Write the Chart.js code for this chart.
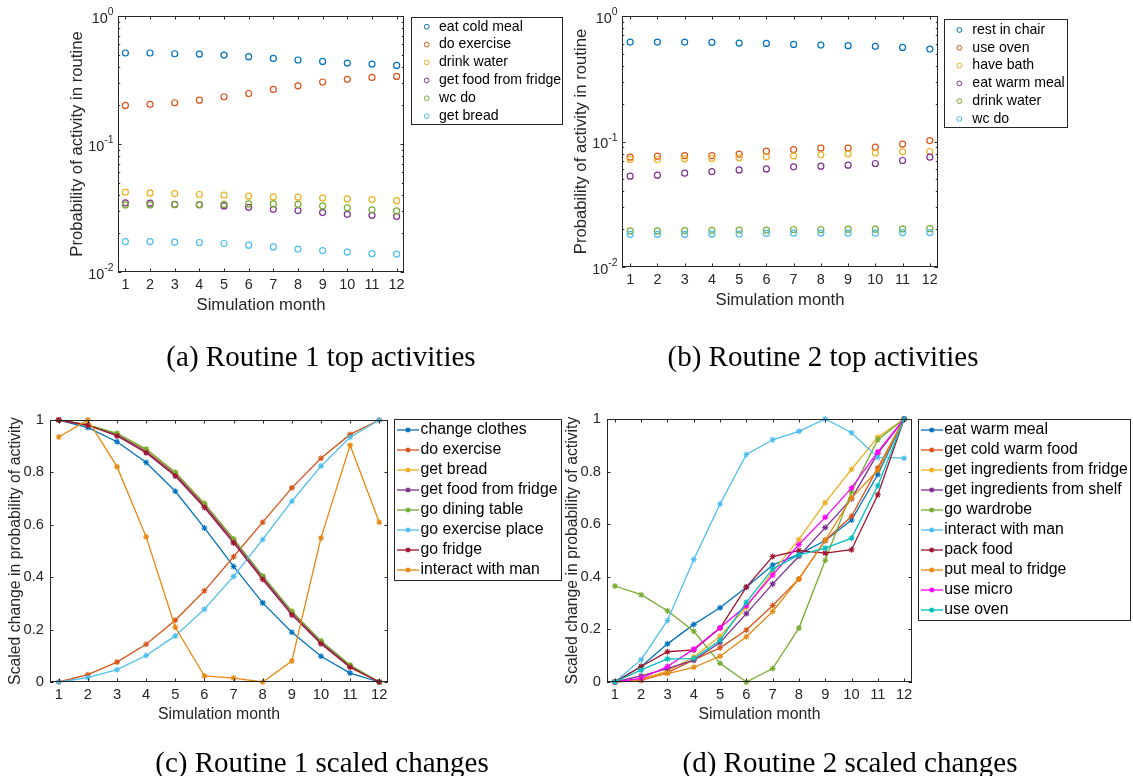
<!DOCTYPE html>
<html>
<head>
<meta charset="utf-8">
<script src="https://cdn.jsdelivr.net/npm/chart.js@4.4.1/dist/chart.umd.min.js"></script>
<style>
  html, body { margin: 0; padding: 0; background: #fff; }
  #page { position: relative; width: 1133px; height: 776px; overflow: hidden; }
  #page canvas { position: absolute; left: 0; top: 0; }
  .caption {
    position: absolute;
    font-family: "Liberation Serif", serif;
    font-size: 29px;
    color: #000;
    white-space: nowrap;
    transform: translate(-50%, -50%);
  }
</style>
</head>
<body>
<div id="page">
  <canvas id="chartA" width="1133" height="776"></canvas>
  <canvas id="chartB" width="1133" height="776"></canvas>
  <canvas id="chartC" width="1133" height="776"></canvas>
  <canvas id="chartD" width="1133" height="776"></canvas>
  <div class="caption" style="left:321px; top:356px">(a) Routine 1 top activities</div>
  <div class="caption" style="left:823px; top:356px">(b) Routine 2 top activities</div>
  <div class="caption" style="left:322px; top:762px">(c) Routine 1 scaled changes</div>
  <div class="caption" style="left:850px; top:762px">(d) Routine 2 scaled changes</div>
</div>
<script>
// x axis: simulation months
const months = [1, 2, 3, 4, 5, 6, 7, 8, 9, 10, 11, 12];

// Routine 1, top activities (probability in routine)
const r1TopLabels = ['eat cold meal', 'do exercise', 'drink water', 'get food from fridge', 'wc do', 'get bread'];
const r1TopEatColdMeal = [0.514, 0.514, 0.507, 0.504, 0.495, 0.481, 0.466, 0.453, 0.442, 0.429, 0.421, 0.411];
const r1TopDoExercise = [0.200, 0.204, 0.210, 0.220, 0.234, 0.248, 0.267, 0.285, 0.305, 0.320, 0.331, 0.337];
const r1TopDrinkWater = [0.0420, 0.0415, 0.0410, 0.0403, 0.0398, 0.0391, 0.0386, 0.0384, 0.0379, 0.0372, 0.0368, 0.0361];
const r1TopGetFoodFromFridge = [0.0347, 0.0345, 0.0338, 0.0336, 0.0328, 0.0320, 0.0309, 0.0302, 0.0291, 0.0282, 0.0277, 0.0272];
const r1TopWcDo = [0.0334, 0.0334, 0.0336, 0.0336, 0.0338, 0.0340, 0.0340, 0.0338, 0.0328, 0.0317, 0.0306, 0.0300];
const r1TopGetBread = [0.0173, 0.0173, 0.0171, 0.0170, 0.0167, 0.0162, 0.0157, 0.0151, 0.0147, 0.0143, 0.0139, 0.0138];

// Routine 2, top activities
const r2TopLabels = ['rest in chair', 'use oven', 'have bath', 'eat warm meal', 'drink water', 'wc do'];
const r2TopRestInChair = [0.620, 0.620, 0.620, 0.616, 0.609, 0.605, 0.594, 0.587, 0.580, 0.573, 0.562, 0.545];
const r2TopUseOven = [0.0750, 0.0764, 0.0773, 0.0773, 0.0793, 0.0838, 0.0863, 0.0885, 0.0885, 0.0901, 0.0953, 0.1018];
const r2TopHaveBath = [0.0719, 0.0719, 0.0728, 0.0732, 0.0741, 0.0755, 0.0769, 0.0783, 0.0797, 0.0812, 0.0827, 0.0832];
const r2TopEatWarmMeal = [0.0529, 0.0539, 0.0559, 0.0576, 0.0594, 0.0605, 0.0628, 0.0636, 0.0648, 0.0668, 0.0706, 0.0750];
const r2TopDrinkWater = [0.0194, 0.0194, 0.0195, 0.0196, 0.0197, 0.0197, 0.0199, 0.0199, 0.0200, 0.0200, 0.0201, 0.0202];
const r2TopWcDo = [0.0182, 0.0182, 0.0182, 0.0183, 0.0183, 0.0185, 0.0186, 0.0186, 0.0186, 0.0186, 0.0188, 0.0188];

// Routine 1, scaled change
const r1Labels = ['change clothes', 'do exercise', 'get bread', 'get food from fridge', 'go dining table',
  'go exercise place', 'go fridge', 'interact with man'];
const r1ChangeClothes = [1.0, 0.971, 0.917, 0.838, 0.728, 0.588, 0.441, 0.302, 0.190, 0.098, 0.034, 0];
const r1DoExercise = [0, 0.028, 0.076, 0.144, 0.236, 0.348, 0.478, 0.610, 0.741, 0.854, 0.945, 1.0];
const r1GetBread = [1.0, 0.981, 0.947, 0.886, 0.797, 0.678, 0.543, 0.402, 0.267, 0.154, 0.062, 0];
const r1GetFoodFromFridge = [1.0, 0.980, 0.943, 0.880, 0.792, 0.673, 0.538, 0.398, 0.263, 0.151, 0.060, 0];
const r1GoDiningTable = [1.0, 0.981, 0.949, 0.889, 0.801, 0.682, 0.547, 0.405, 0.270, 0.157, 0.065, 0];
const r1GoExercisePlace = [0, 0.017, 0.047, 0.101, 0.176, 0.278, 0.403, 0.544, 0.690, 0.824, 0.934, 1.0];
const r1GoFridge = [1.0, 0.980, 0.939, 0.875, 0.786, 0.666, 0.531, 0.391, 0.256, 0.146, 0.056, 0];
const r1InteractWithMan = [0.935, 1.0, 0.822, 0.554, 0.209, 0.023, 0.015, 0, 0.080, 0.550, 0.904, 0.610];

// Routine 2, scaled change
const r2Labels = ['eat warm meal', 'get cold warm food', 'get ingredients from fridge', 'get ingredients from shelf',
  'go wardrobe', 'interact with man', 'pack food', 'put meal to fridge', 'use micro', 'use oven'];
const r2EatWarmMeal = [0, 0.059, 0.145, 0.219, 0.282, 0.360, 0.445, 0.485, 0.538, 0.616, 0.789, 1.0];
const r2GetColdWarmFood = [0, 0.006, 0.036, 0.084, 0.130, 0.198, 0.291, 0.392, 0.538, 0.630, 0.814, 1.0];
const r2GetIngredientsFromFridge = [0, 0.010, 0.042, 0.095, 0.174, 0.284, 0.420, 0.542, 0.682, 0.809, 0.931, 1.0];
const r2GetIngredientsFromShelf = [0, 0.023, 0.051, 0.083, 0.150, 0.260, 0.373, 0.478, 0.587, 0.697, 0.869, 1.0];
const r2GoWardrobe = [0.365, 0.332, 0.271, 0.193, 0.071, 0, 0.051, 0.205, 0.463, 0.723, 0.921, 1.0];
const r2InteractWithMan = [0, 0.085, 0.234, 0.466, 0.677, 0.865, 0.921, 0.953, 1.0, 0.948, 0.854, 0.851];
const r2PackFood = [0, 0.059, 0.115, 0.122, 0.205, 0.361, 0.477, 0.500, 0.490, 0.503, 0.712, 1.0];
const r2PutMealToFridge = [0, 0.012, 0.032, 0.056, 0.098, 0.172, 0.268, 0.392, 0.539, 0.700, 0.805, 1.0];
const r2UseMicro = [0, 0.014, 0.059, 0.125, 0.206, 0.290, 0.407, 0.523, 0.626, 0.738, 0.875, 1.0];
const r2UseOven = [0, 0.046, 0.088, 0.089, 0.159, 0.303, 0.430, 0.483, 0.509, 0.547, 0.746, 1.0];

// y ticks
const logTicks = [0.01, 0.1, 1];
const logExponents = [-2, -1, 0];
const linTicks = [0, 0.2, 0.4, 0.6, 0.8, 1];
const linTickLabels = ['0', '0.2', '0.4', '0.6', '0.8', '1'];

// matlab default line colours plus a couple of extras
const mBlue = '#0072BD', mRed = '#D95319', mYellow = '#EDB120', mPurple = '#7E2F8E',
  mGreen = '#77AC30', mCyan = '#4DBEEE', mDarkRed = '#A2142F', mOrange = '#E8870E',
  mMagenta = '#FF00FF', mTeal = '#00BFBF';

const axisColor = '#262626';
const sans = '"Liberation Sans", Arial, sans-serif';

const panels = [
  {
    id: 'chartA', type: 'scatter', log: true,
    labels: r1TopLabels,
    series: [r1TopEatColdMeal, r1TopDoExercise, r1TopDrinkWater, r1TopGetFoodFromFridge, r1TopWcDo, r1TopGetBread],
    colors: [mBlue, mRed, mYellow, mPurple, mGreen, mCyan],
    area: { left: 118, top: 16, right: 404, bottom: 272 },
    yTitle: 'Probability of activity in routine', yTitleX: 77, xTitleY: 305,
    tickFont: 14.4, titleFont: 16.7,
    legend: { left: 411, top: 17, right: 563, bottom: 125, firstRow: 26.7, rowH: 17.9, markX: 426.7, textX: 439, font: 14.1 }
  },
  {
    id: 'chartB', type: 'scatter', log: true,
    labels: r2TopLabels,
    series: [r2TopRestInChair, r2TopUseOven, r2TopHaveBath, r2TopEatWarmMeal, r2TopDrinkWater, r2TopWcDo],
    colors: [mBlue, mRed, mYellow, mPurple, mGreen, mCyan],
    area: { left: 622, top: 16, right: 938, bottom: 267 },
    yTitle: 'Probability of activity in routine', yTitleX: 581, xTitleY: 300,
    tickFont: 14.4, titleFont: 16.7,
    legend: { left: 944, top: 19, right: 1068, bottom: 128, firstRow: 30, rowH: 17.8, markX: 959.3, textX: 972.3, font: 14.1 }
  },
  {
    id: 'chartC', type: 'line', log: false,
    labels: r1Labels,
    series: [r1ChangeClothes, r1DoExercise, r1GetBread, r1GetFoodFromFridge, r1GoDiningTable,
      r1GoExercisePlace, r1GoFridge, r1InteractWithMan],
    colors: [mBlue, mRed, mYellow, mPurple, mGreen, mCyan, mDarkRed, mOrange],
    area: { left: 50, top: 420, right: 388, bottom: 682 },
    yTitle: 'Scaled change in probability of activity', yTitleX: 16, xTitleY: 715,
    tickFont: 14.7, titleFont: 15.8,
    legend: { left: 394, top: 419, right: 562, bottom: 581, firstRow: 430, rowH: 20, markX: 408, textX: 420.5, font: 15.8 }
  },
  {
    id: 'chartD', type: 'line', log: false,
    labels: r2Labels,
    series: [r2EatWarmMeal, r2GetColdWarmFood, r2GetIngredientsFromFridge, r2GetIngredientsFromShelf, r2GoWardrobe,
      r2InteractWithMan, r2PackFood, r2PutMealToFridge, r2UseMicro, r2UseOven],
    colors: [mBlue, mRed, mYellow, mPurple, mGreen, mCyan, mDarkRed, mOrange, mMagenta, mTeal],
    area: { left: 607, top: 419, right: 912, bottom: 682 },
    yTitle: 'Scaled change in probability of activity', yTitleX: 573, xTitleY: 715,
    tickFont: 14.7, titleFont: 15.8,
    legend: { left: 918, top: 419, right: 1131, bottom: 621, firstRow: 430, rowH: 20, markX: 931.7, textX: 944.3, font: 15.8 }
  }
];

function toPoints(values) {
  return months.map((m, i) => ({ x: m, y: values[i] }));
}

function buildDatasets(p) {
  const n = p.labels.length;
  return p.labels.map((label, i) => {
    const ds = {
      label: label,
      data: toPoints(p.series[i]),
      borderColor: p.colors[i],
      pointBorderColor: p.colors[i],
      clip: false,
      order: n - i // later series on top
    };
    if (p.type === 'scatter') {
      Object.assign(ds, {
        showLine: false,
        backgroundColor: 'rgba(0,0,0,0)',
        pointBackgroundColor: 'rgba(0,0,0,0)',
        pointStyle: 'circle',
        pointRadius: 3,
        pointBorderWidth: 1.2
      });
    } else {
      Object.assign(ds, {
        borderWidth: 1.3,
        backgroundColor: p.colors[i],
        pointBackgroundColor: p.colors[i],
        pointStyle: 'star',
        pointRadius: 3,
        pointBorderWidth: 1.1,
        tension: 0
      });
    }
    return ds;
  });
}

// box, inward ticks, labels and legend drawn in matlab style
function axesPlugin(p) {
  return {
    id: 'matlabAxes',
    afterDatasetsDraw(chart) {
      const ctx = chart.ctx;
      const a = chart.chartArea;
      const xs = chart.scales.x;
      const ys = chart.scales.y;
      const major = 3.5, minor = 2.2;

      ctx.save();
      ctx.strokeStyle = axisColor;
      ctx.lineWidth = 1;
      ctx.beginPath();
      months.forEach(m => {
        const px = Math.round(xs.getPixelForValue(m)) + 0.5;
        ctx.moveTo(px, a.bottom); ctx.lineTo(px, a.bottom - major);
        ctx.moveTo(px, a.top); ctx.lineTo(px, a.top + major);
      });
      const yTicks = p.log ? logTicks : linTicks;
      yTicks.forEach(v => {
        const py = Math.round(ys.getPixelForValue(v)) + 0.5;
        ctx.moveTo(a.left, py); ctx.lineTo(a.left + major, py);
        ctx.moveTo(a.right, py); ctx.lineTo(a.right - major, py);
      });
      if (p.log) {
        [0.01, 0.1].forEach(decade => {
          for (let k = 2; k <= 9; k++) {
            const py = Math.round(ys.getPixelForValue(decade * k)) + 0.5;
            ctx.moveTo(a.left, py); ctx.lineTo(a.left + minor, py);
            ctx.moveTo(a.right, py); ctx.lineTo(a.right - minor, py);
          }
        });
      }
      ctx.stroke();
      ctx.strokeRect(a.left + 0.5, a.top + 0.5, a.right - a.left - 1, a.bottom - a.top - 1);

      // tick labels
      ctx.fillStyle = axisColor;
      ctx.font = p.tickFont + 'px ' + sans;
      ctx.textAlign = 'center';
      ctx.textBaseline = 'middle';
      months.forEach(m => {
        ctx.fillText(String(m), xs.getPixelForValue(m), a.bottom + 13.3);
      });
      if (p.log) {
        const expFont = (p.tickFont * 0.72).toFixed(1) + 'px ' + sans;
        logTicks.forEach((v, i) => {
          const py = ys.getPixelForValue(v);
          const exp = String(logExponents[i]);
          ctx.font = expFont;
          const ew = ctx.measureText(exp).width;
          ctx.textAlign = 'right';
          ctx.fillText(exp, a.left - 4.5, py - 3.5);
          ctx.font = p.tickFont + 'px ' + sans;
          ctx.fillText('10', a.left - 4.5 - ew, py + 2.7);
        });
      } else {
        ctx.textAlign = 'right';
        linTicks.forEach((v, i) => {
          ctx.fillText(linTickLabels[i], a.left - 6, ys.getPixelForValue(v));
        });
      }

      // axis titles
      ctx.font = p.titleFont + 'px ' + sans;
      ctx.textAlign = 'center';
      ctx.fillText('Simulation month', (a.left + a.right) / 2, p.xTitleY);
      ctx.save();
      ctx.translate(p.yTitleX, (a.top + a.bottom) / 2);
      ctx.rotate(-Math.PI / 2);
      ctx.fillText(p.yTitle, 0, 0);
      ctx.restore();

      // legend
      const lg = p.legend;
      ctx.fillStyle = '#fff';
      ctx.fillRect(lg.left, lg.top, lg.right - lg.left, lg.bottom - lg.top);
      ctx.strokeStyle = axisColor;
      ctx.strokeRect(lg.left + 0.5, lg.top + 0.5, lg.right - lg.left - 1, lg.bottom - lg.top - 1);
      p.labels.forEach((label, i) => {
        const ry = lg.firstRow + i * lg.rowH;
        const c = p.colors[i];
        ctx.strokeStyle = c;
        if (p.type === 'scatter') {
          ctx.fillStyle = 'rgba(0,0,0,0)';
          Chart.helpers.drawPoint(ctx, { pointStyle: 'circle', radius: 2.4, borderWidth: 1.1, rotation: 0 }, lg.markX, ry);
        } else {
          ctx.lineWidth = 1.3;
          ctx.beginPath();
          ctx.moveTo(lg.left + 3, ry);
          ctx.lineTo(lg.left + 25, ry);
          ctx.stroke();
          ctx.fillStyle = c;
          Chart.helpers.drawPoint(ctx, { pointStyle: 'star', radius: 2.6, borderWidth: 1, rotation: 0 }, lg.markX, ry);
        }
        ctx.fillStyle = '#000';
        ctx.font = lg.font + 'px ' + sans;
        ctx.textAlign = 'left';
        ctx.textBaseline = 'middle';
        ctx.fillText(label, lg.textX, ry);
      });
      ctx.restore();
    }
  };
}

panels.forEach(p => {
  const yScale = p.log
    ? { type: 'logarithmic', min: 0.01, max: 1, display: false }
    : { type: 'linear', min: 0, max: 1, display: false };
  new Chart(document.getElementById(p.id), {
    type: p.type,
    data: { datasets: buildDatasets(p) },
    options: {
      responsive: false,
      animation: false,
      devicePixelRatio: 1,
      layout: {
        padding: { left: p.area.left, top: p.area.top, right: 1133 - p.area.right, bottom: 776 - p.area.bottom }
      },
      scales: {
        x: { type: 'linear', min: 0.7, max: 12.3, display: false },
        y: yScale
      },
      plugins: {
        legend: { display: false },
        tooltip: { enabled: false }
      },
      events: []
    },
    plugins: [axesPlugin(p)]
  });
});
</script>
</body>
</html>
